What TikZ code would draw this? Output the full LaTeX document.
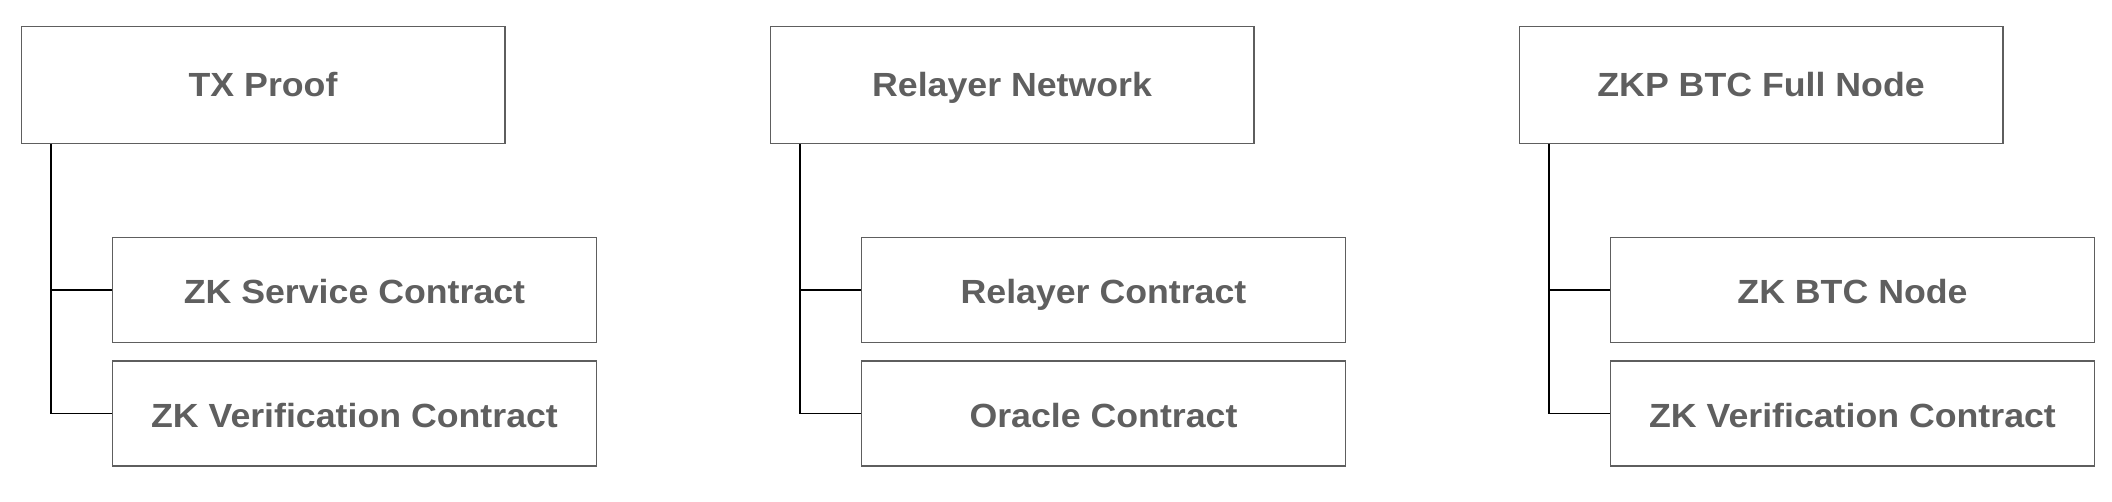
\documentclass[tikz,border=0pt]{standalone}
\usepackage{fontspec}
\setmainfont{Liberation Sans}[BoldFeatures={FakeStretch=1.066}]
\definecolor{boxline}{HTML}{5E5E5E}
\definecolor{boxtext}{HTML}{5F5F5F}
\tikzset{
  box/.style={draw=boxline, line width=1.6pt, rectangle, inner sep=0pt,
    minimum width=483.5pt, anchor=north west, text=boxtext,
    font=\fontsize{33.5pt}{36pt}\selectfont\bfseries,
    text height=24pt, text depth=0pt},
  parentbox/.style={box, minimum height=117pt},
  childbox/.style={box, minimum height=105pt, minimum width=484pt,
    text height=28pt, text depth=0pt},
  link/.style={draw=black, line width=1.6pt}
}
\begin{document}
\begin{tikzpicture}[x=1pt,y=-1pt]
\useasboundingbox (0,0) rectangle (2112,502);
\foreach \off/\pn/\ca/\cb/\tp/\ta/\tb in {
  0/p1/c1a/c1b/{TX Proof}/{ZK Service Contract}/{ZK Verification Contract},
  749/p2/c2a/c2b/{Relayer Network}/{Relayer Contract}/{Oracle Contract},
  1498/p3/c3a/c3b/{ZKP BTC Full Node}/{ZK BTC Node}/{ZK Verification Contract}}{
  \node[parentbox] (\pn) at (20.5+\off,25.7) {\tp};
  \node[childbox] (\ca) at (111.7+\off,236.7) {\ta};
  \node[childbox] (\cb) at (111.7+\off,360) {\tb};
  \draw[link] ([xshift=30.2pt]\pn.south west) |- (\ca.west);
  \draw[link] ([xshift=30.2pt]\pn.south west) |- (\cb.west);
}
\end{tikzpicture}
\end{document}
